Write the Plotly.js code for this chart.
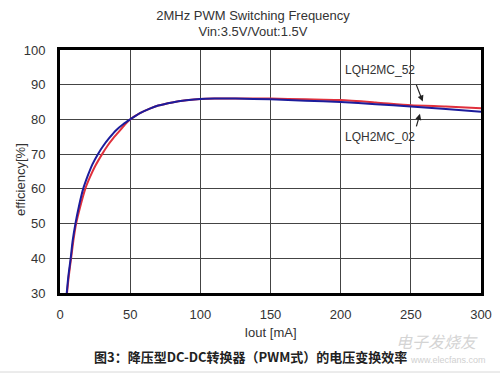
<!DOCTYPE html>
<html>
<head>
<meta charset="utf-8">
<script src="https://cdn.plot.ly/plotly-3.0.1.min.js"></script>
<style>html,body{margin:0;padding:0;background:#fff;}#chart{width:500px;height:376px;}</style>
</head>
<body>
<div id="chart"></div>
<script>
// Output current [mA]
const ioutBlue = [4.8, 6, 7.6, 9, 11, 13.5, 16.5, 20, 23, 27, 31, 35, 40, 45, 50, 57, 64, 70, 80, 90, 100, 110, 125, 150, 175, 200, 225, 250, 275, 300];
// LQH2MC_02 efficiency [%]
const effBlue  = [30, 35, 40, 45, 50, 55, 60, 64, 67, 70, 72.5, 74.6, 76.9, 78.6, 80, 81.8, 83.1, 84, 84.9, 85.5, 85.9, 86.0, 86.0, 85.8, 85.4, 85.0, 84.4, 83.7, 83.0, 82.2];
const ioutRed  = [5, 6.3, 7.9, 9.5, 11.5, 14.5, 18, 21.5, 25, 30, 34, 38, 42, 46, 50, 57, 64, 70, 80, 90, 100, 110, 125, 150, 175, 200, 225, 250, 275, 300];
// LQH2MC_52 efficiency [%]
const effRed   = [30, 35, 40, 45, 50, 55, 60, 63.5, 66.5, 70, 72.5, 74.6, 76.5, 78.4, 80, 81.8, 83.1, 84, 84.9, 85.5, 85.9, 86.0, 86.0, 86.0, 85.8, 85.6, 84.9, 84.1, 83.7, 83.2];

const xTicks = [0, 50, 100, 150, 200, 250, 300];
const yTicks = [30, 40, 50, 60, 70, 80, 90, 100];
const seriesNames = ['LQH2MC_52', 'LQH2MC_02'];

const titleText = '2MHz PWM Switching Frequency<br>Vin:3.5V/Vout:1.5V';
const xTitle = 'Iout [mA]';
const yTitle = 'efficiency[%]';
const caption = '图3：降压型DC-DC转换器（PWM式）的电压变换效率';

const baseFont = 'Liberation Sans, Arial, sans-serif';

const plotW = 500 - 60 - 19, plotH = 376 - 50 - 83;
function px(xp) { return (xp - 60) / plotW; }
function py(yp) { return (376 - 83 - yp) / plotH; }

const traces = [
  {x: ioutRed, y: effRed, type: 'scatter', mode: 'lines', name: seriesNames[0],
   line: {color: '#e0303c', width: 2, shape: 'spline', smoothing: 0.6}},
  {x: ioutBlue, y: effBlue, type: 'scatter', mode: 'lines', name: seriesNames[1],
   line: {color: '#1c1c9c', width: 2, shape: 'spline', smoothing: 0.6}}
];

const layout = {
  width: 500, height: 376,
  margin: {l: 60, r: 19, t: 50, b: 83},
  paper_bgcolor: '#ffffff', plot_bgcolor: '#ffffff',
  showlegend: false,
  font: {family: baseFont, size: 13, color: '#333'},
  title: {text: titleText, x: 0.506, xanchor: 'center', y: 0.948, yanchor: 'middle',
          font: {family: baseFont, size: 13, color: '#333'}},
  xaxis: {range: [0, 300], tickvals: xTicks, ticktext: xTicks.map(String),
          showgrid: true, gridcolor: '#444', gridwidth: 1.2, zeroline: false,
          showline: true, mirror: true, linecolor: '#000', linewidth: 3,
          ticks: '', ticklabelstandoff: 7,
          tickfont: {family: baseFont, size: 13, color: '#333'},
          title: {text: xTitle, standoff: 8, font: {family: baseFont, size: 13, color: '#333'}}},
  yaxis: {range: [30, 100], tickvals: yTicks, ticktext: yTicks.map(String),
          showgrid: true, gridcolor: '#444', gridwidth: 1.2, zeroline: false,
          showline: true, mirror: true, linecolor: '#000', linewidth: 3,
          ticks: '', ticklabelstandoff: 9,
          tickfont: {family: baseFont, size: 13, color: '#333'}},
  annotations: [
    {x: 228, y: 94.2, xref: 'x', yref: 'y', text: seriesNames[0], showarrow: false,
     font: {family: baseFont, size: 12, color: '#333'}},
    {x: 228, y: 74.9, xref: 'x', yref: 'y', text: seriesNames[1], showarrow: false,
     font: {family: baseFont, size: 12, color: '#333'}},
    {x: 258.5, y: 85.2, xref: 'x', yref: 'y', text: '', showarrow: true, ax: -7, ay: -18,
     arrowhead: 2, arrowsize: 1, arrowwidth: 1.2, arrowcolor: '#222'},
    {x: 256.5, y: 81.6, xref: 'x', yref: 'y', text: '', showarrow: true, ax: -4, ay: 14,
     arrowhead: 2, arrowsize: 1, arrowwidth: 1.2, arrowcolor: '#222'},
    {x: px(20), y: py(180), xref: 'paper', yref: 'paper', xanchor: 'center', yanchor: 'middle',
     text: yTitle, textangle: -90, showarrow: false,
     font: {family: baseFont, size: 13, color: '#333'}},
    {x: px(250), y: py(356), xref: 'paper', yref: 'paper', xanchor: 'center', yanchor: 'middle',
     text: '<b>' + caption + '</b>', showarrow: false,
     font: {family: 'Noto Sans CJK SC, sans-serif', size: 13, color: '#222'}},
    {x: px(437), y: py(341), xref: 'paper', yref: 'paper', xanchor: 'center', yanchor: 'middle',
     text: '<i>电子发烧友</i>', showarrow: false,
     font: {family: 'Noto Sans CJK SC, sans-serif', size: 16, color: '#d4d4d4'}},
    {x: px(488), y: py(360), xref: 'paper', yref: 'paper', xanchor: 'right', yanchor: 'middle',
     text: 'www.elecfans.com', showarrow: false,
     font: {family: baseFont, size: 9, color: '#d0d0d0'}}
  ],
  shapes: [
    {type: 'line', xref: 'paper', yref: 'paper', x0: px(0), x1: px(500), y0: py(372), y1: py(372),
     line: {color: '#d8d8d8', width: 1}}
  ]
};

Plotly.newPlot('chart', traces, layout, {displayModeBar: false, staticPlot: true});
</script>
</body>
</html>
